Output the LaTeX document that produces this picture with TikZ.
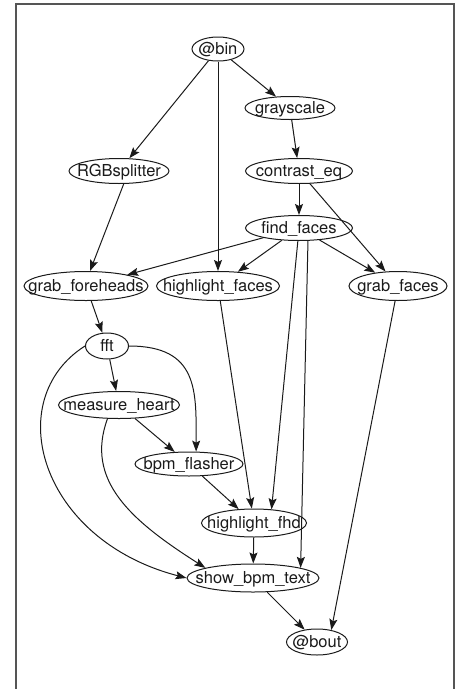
\documentclass[tikz,border=0pt]{standalone}
\usepackage{fontspec}
\setmainfont{TeX Gyre Heros}
\usetikzlibrary{shapes.geometric,arrows.meta}
\definecolor{ink}{HTML}{1A1A1A}
\definecolor{framec}{HTML}{555555}
\newcommand\lbl[1]{\makebox[0pt]{\raisebox{-0.36em}[0pt][0pt]{#1}}}
\tikzset{
  nd/.style={ellipse, draw=ink, line width=1pt, inner sep=0pt, text=ink,
    font=\fontsize{16.5}{18}\selectfont},
  edge/.style={draw=ink, line width=1pt,
    -{Stealth[length=11pt,width=8pt,inset=2pt]}},
  plain/.style={draw=ink, line width=1pt}
}
\begin{document}
\begin{tikzpicture}[x=1pt,y=-1pt]
\useasboundingbox (0,0) rectangle (459,689);
\draw[framec, line width=1.2pt] (16,689) -- (16,4) -- (454,4) -- (454,689);

\node[nd, minimum width=52, minimum height=24] (bin) at (218,49) {\lbl{@bin}};
\node[nd, minimum width=90, minimum height=23] (gray) at (290,108) {\lbl{grayscale}};
\node[nd, minimum width=100, minimum height=25] (rgb) at (119,171) {\lbl{RGBsplitter}};
\node[nd, minimum width=107, minimum height=25] (ceq) at (299,171) {\lbl{contrast\_eq}};
\node[nd, minimum width=107, minimum height=25] (ff) at (299,228) {\lbl{find\_faces}};
\node[nd, minimum width=124, minimum height=29] (gfh) at (86,286) {\lbl{grab\_foreheads}};
\node[nd, minimum width=123, minimum height=29] (hf) at (218,286) {\lbl{highlight\_faces}};
\node[nd, minimum width=98, minimum height=29] (gf) at (398,286) {\lbl{grab\_faces}};
\node[nd, minimum width=43, minimum height=26] (fft) at (107,346) {\lbl{fft}};
\node[nd, minimum width=121, minimum height=27] (mh) at (119,405) {\lbl{measure\_heart}};
\node[nd, minimum width=108, minimum height=24] (bf) at (189,464) {\lbl{bpm\_flasher}};
\node[nd, minimum width=105, minimum height=28] (hfhd) at (254,523) {\lbl{highlight\_fhd}};
\node[nd, minimum width=132, minimum height=28] (sbt) at (253,578) {\lbl{show\_bpm\_text}};
\node[nd, minimum width=61, minimum height=26] (bout) at (317,642) {\lbl{@bout}};

\draw[edge] (bin) -- (gray);
\draw[edge] (bin) -- (rgb);
\draw[edge] (bin) -- (hf);
\draw[edge] (gray) -- (ceq);
\draw[edge] (ceq) -- (ff);
\draw[edge] (ceq) -- (gf);
\draw[edge] (rgb.290) -- (gfh.75);
\draw[edge] (ff) -- (gfh);
\draw[edge] (ff) -- (hf);
\draw[edge] (ff) -- (gf);
\draw[edge] (ff.265) -- (hfhd.38);
\draw[edge] (ff.305) -- (sbt.12);
\draw[edge] (hf) -- (hfhd);
\draw[edge] (gf) -- (bout.40);
\draw[edge] (gfh) -- (fft);
\draw[edge] (fft) -- (mh);
\draw[edge] (fft.east) .. controls +(70,0) and +(0,-60) .. (bf.60);
\draw[edge] (fft.west) .. controls (0,400) and (40,540) .. (sbt.west);
\draw[edge] (mh) -- (bf);
\draw[edge] (mh.230) .. controls (85,480) and (130,520) .. (sbt.168);
\draw[edge] (bf) -- (hfhd);
\draw[edge] (hfhd) -- (sbt);
\draw[edge] (sbt) -- (bout);
\end{tikzpicture}
\end{document}
